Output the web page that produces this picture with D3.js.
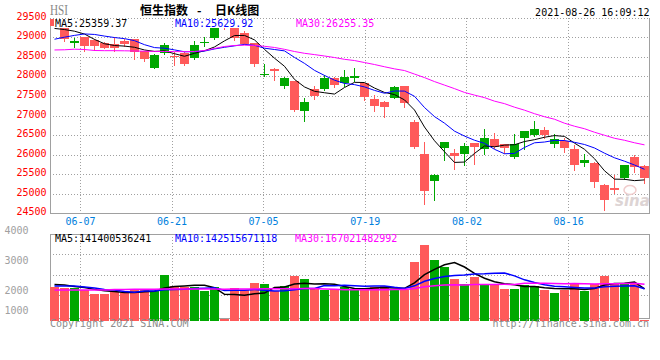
<!DOCTYPE html>
<html><head><meta charset="utf-8">
<script src="https://cdn.jsdelivr.net/npm/d3@7"></script>
<style>body{margin:0;background:#fff}svg{display:block}</style>
</head><body><svg id="c" width="660" height="360"></svg>
<script>
const dates = ["06-02","06-03","06-04","06-07","06-08","06-09","06-10","06-11","06-15","06-16","06-17","06-18","06-21","06-22","06-23","06-24","06-25","06-28","06-29","06-30","07-02","07-05","07-06","07-07","07-08","07-09","07-12","07-13","07-14","07-15","07-16","07-19","07-20","07-21","07-22","07-23","07-26","07-27","07-28","07-29","07-30","08-02","08-03","08-04","08-05","08-06","08-09","08-10","08-11","08-12","08-13","08-16","08-17","08-18","08-19","08-20","08-23","08-24","08-25","08-26"];
const open = [29460,29410,28850,29000,28930,28850,28830,28900,28960,28650,
  28230,28600,28530,28590,28470,28870,28980,29340,29320,29110,
  28850,28050,28200,27760,27880,27120,27690,27680,27970,27830,
  27960,27830,27420,27350,27460,27760,26840,26010,25330,26180,
  26050,26010,26300,26140,26400,26270,25950,26430,26500,26630,
  26270,26350,26140,25780,25800,25240,25160,25420,25950,25720];
const high = [29480,29420,28980,29010,28960,28890,29000,28960,28970,28660,
  28580,28850,28620,28640,28920,29010,29400,29400,29330,29170,
  28860,28330,28210,27980,27890,27440,27760,28050,27990,28180,
  28210,27840,27530,27380,27760,27770,26900,26330,25520,26330,
  26140,26300,26310,26650,26570,26280,26520,26610,26860,26710,
  26520,26440,26240,26010,25810,25250,25490,25740,25990,25740];
const low = [29230,28890,28720,28640,28650,28700,28620,28760,28420,28380,
  28200,28560,28280,28280,28430,28760,28930,29180,28900,28800,
  28240,27990,27890,27680,27100,26840,27400,27620,27700,27740,
  27870,27380,27100,26940,27420,27190,26150,24710,24820,25830,
  25600,25720,25750,25990,26140,26030,25890,26120,26460,26400,
  26180,26050,25590,25700,25160,24560,25010,25350,25540,25250];
const close = [29297,28966,28918,28787,28781,28743,28739,28842,28639,28437,
  28559,28801,28489,28310,28817,28882,29288,29268,28994,28828,
  28310,28073,28143,27960,27153,27345,27515,27963,27787,27996,
  28005,27489,27260,27225,27724,27322,26192,25086,25474,26315,
  25961,26236,26195,26427,26205,26179,26283,26606,26660,26518,
  26392,26181,25746,25867,25316,24850,25110,25728,25694,25416];
const ma5 = [29231,29202,29160,29087,28950,28839,28794,28779,28749,28680,
  28643,28656,28585,28519,28595,28660,28757,28913,29050,29052,
  28938,28695,28470,28263,27928,27735,27623,27587,27553,27721,
  27853,27848,27707,27595,27540,27404,27145,26710,26360,26078,
  25806,25815,26036,26227,26205,26248,26258,26340,26387,26449,
  26492,26471,26299,26141,25901,25592,25378,25374,25340,25359];
const ma10 = [28955,29007,29053,29090,29077,29035,28998,28970,28918,28815,
  28741,28725,28682,28634,28638,28652,28707,28749,28785,28824,
  28799,28726,28692,28657,28490,28337,28159,28029,27908,27825,
  27794,27736,27647,27574,27631,27629,27496,27209,26977,26809,
  26605,26479,26373,26293,26141,26027,26036,26188,26307,26327,
  26370,26365,26320,26264,26175,26042,25924,25837,25740,25630];
const ma30 = [28680,28685,28700,28692,28667,28662,28662,28659,28654,28649,
  28644,28641,28639,28636,28641,28667,28718,28769,28795,28803,
  28795,28774,28744,28697,28641,28595,28562,28526,28487,28441,
  28410,28359,28308,28251,28197,28154,28064,27974,27872,27782,
  27692,27595,27526,27462,27372,27308,27218,27141,27051,26974,
  26910,26808,26731,26667,26577,26500,26423,26372,26308,26255];
const volume = [2240,2190,2190,2150,2000,2000,2080,2040,2120,2120,
  2090,2630,2270,2230,2230,2100,2220,1170,2190,2120,
  2360,2320,2100,2270,2600,2500,2210,2130,2170,2240,
  2170,2170,2240,2270,2130,2130,3080,3630,3130,2910,
  2500,2330,2580,2300,2330,2170,2170,2300,2270,2130,
  2040,2130,2320,2110,2320,2610,2380,2380,2320,1150];
const volMa5 = [2317,2300,2250,2217,2154,2106,2084,2054,2048,2072,
  2090,2200,2246,2268,2290,2292,2210,1990,1982,1960,
  2012,2032,2218,2234,2330,2358,2336,2342,2322,2250,
  2184,2176,2198,2218,2196,2188,2370,2648,2820,2976,
  3050,2900,2690,2524,2408,2342,2310,2254,2248,2208,
  2182,2174,2178,2146,2184,2298,2348,2360,2402,2168];
const volMa10 = [2267,2267,2267,2233,2200,2150,2133,2080,2060,2100,
  2098,2142,2150,2158,2181,2191,2205,2118,2125,2125,
  2152,2121,2104,2108,2145,2185,2184,2280,2278,2290,
  2271,2256,2270,2270,2223,2186,2273,2423,2519,2586,
  2619,2635,2669,2672,2692,2696,2605,2472,2386,2308,
  2262,2242,2216,2197,2196,2240,2261,2269,2274,2176];
const volMa30 = [2133,2133,2133,2133,2133,2133,2150,2150,2155,2155,
  2155,2165,2165,2165,2165,2165,2165,2160,2170,2170,
  2170,2175,2175,2175,2178,2180,2180,2165,2155,2141,
  2139,2138,2140,2144,2148,2152,2186,2239,2272,2299,
  2312,2302,2313,2315,2318,2321,2319,2357,2359,2360,
  2349,2343,2350,2345,2335,2339,2345,2353,2358,2322];
const priceTicks = [29500,29000,28500,28000,27500,27000,26500,26000,25500,25000,24500];
const volTicks = [4000,3000,2000,1000];
const dateTicks = ["06-07","06-21","07-05","07-19","08-02","08-16"];
const priceMaLabels = ["MA5:25359.37","MA10:25629.92","MA30:26255.35"];
const volMaLabels = ["MA5:141400536241","MA10:142515671118","MA30:167021482992"];
const maColors = ["#000000","#0000ff","#ff00ff"];

const svg = d3.select("#c");
const mono = "'DejaVu Sans Mono', monospace";
const RED = "#ff5a5a", GREEN = "#00a800", GRID = "#a0a0a0", AXIS = "#a0a0a0";
const n = dates.length;
const L = 50, R = 650, T = 18, B = 213, VT = 234, VB = 318;

const xC = d3.scaleLinear().domain([0, n]).range([L, R]);        // candle slots
const xG = d3.scaleLinear().domain([0, n - 1]).range([L, R]);    // date grid
const y = d3.scaleLinear().domain([24500, 29500]).range([213.5, 17.9]);
const yV = d3.scaleLinear().domain([1100, 4000]).range([321, 234]);
const vGrid = d3.scaleLinear().domain([0, 4]).range([VT, 316]);
const px = v => Math.floor(v + 0.4) + 0.5;

// ---------- header ----------
svg.append("text").attr("x", 50).attr("y", 15).attr("fill", "#888")
  .attr("font-family", "'Liberation Serif', serif").attr("font-size", 14)
  .attr("textLength", 18).attr("lengthAdjust", "spacingAndGlyphs").text("HSI");
const title = svg.append("text").attr("y", 15).attr("fill", "#000")
  .attr("font-family", "'Noto Sans CJK SC', sans-serif").attr("font-size", 12)
  .attr("font-weight", "bold");
title.append("tspan").attr("x", 140).text("恒生指数");
title.append("tspan").attr("x", 197).text("-");
title.append("tspan").attr("x", 215).text("日K线图");
svg.append("text").attr("x", 649.5).attr("y", 16).attr("text-anchor", "end")
  .attr("font-family", mono).attr("font-size", 10).attr("fill", "#000")
  .text("2021-08-26 16:09:12");

// ---------- grid ----------
const g = svg.append("g").attr("shape-rendering", "crispEdges");
priceTicks.slice(0, -1).forEach(v => {
  g.append("line").attr("x1", L).attr("x2", R).attr("y1", px(y(v))).attr("y2", px(y(v)))
    .attr("stroke", GRID).attr("stroke-dasharray", "1,2");
});
dateTicks.forEach(d => {
  const xx = Math.floor(xG(dates.indexOf(d))) + 0.5;
  g.append("line").attr("x1", xx).attr("x2", xx).attr("y1", T).attr("y2", B)
    .attr("stroke", GRID).attr("stroke-dasharray", "1,2");
  g.append("line").attr("x1", xx).attr("x2", xx).attr("y1", VT).attr("y2", VB)
    .attr("stroke", GRID).attr("stroke-dasharray", "1,2");
});
[1, 2, 3].forEach(i => {
  const yy = Math.floor(vGrid(i)) + 0.5;
  g.append("line").attr("x1", L).attr("x2", R).attr("y1", yy).attr("y2", yy)
    .attr("stroke", GRID).attr("stroke-dasharray", "1,2");
});
[[L + 0.5, T, L + 0.5, B + 1], [R - 0.5, T, R - 0.5, B + 1], [L, B + 0.5, R, B + 0.5],
 [L, VT + 0.5, R, VT + 0.5], [L + 0.5, VT, L + 0.5, VB + 1], [R - 0.5, VT, R - 0.5, VB + 1],
 [L, VB + 0.5, R, VB + 0.5]].forEach(a => {
  g.append("line").attr("x1", a[0]).attr("y1", a[1]).attr("x2", a[2]).attr("y2", a[3])
    .attr("stroke", AXIS);
});

// price labels
svg.append("g").selectAll("text").data(priceTicks).join("text")
  .attr("x", 46.5).attr("y", v => Math.floor(y(v) + 0.4) + 2)
  .attr("text-anchor", "end").attr("font-family", mono).attr("font-size", 10)
  .attr("fill", "#ff0000").text(v => v);
// date labels
svg.append("g").selectAll("text").data(dateTicks).join("text")
  .attr("x", d => xG(dates.indexOf(d))).attr("y", 225)
  .attr("text-anchor", "middle").attr("font-family", mono).attr("font-size", 10)
  .attr("fill", "#0080dd").text(d => d);
// volume labels
svg.append("g").selectAll("text").data(volTicks).join("text")
  .attr("x", 28.5).attr("y", v => Math.min(yV(v), 314))
  .attr("text-anchor", "end").attr("font-family", mono).attr("font-size", 10)
  .attr("fill", "#a0a0a0").text(v => v);

// watermark
const wm = svg.append("g");
wm.append("ellipse").attr("cx", 630).attr("cy", 190).attr("rx", 6).attr("ry", 4.5)
  .attr("fill", "none").attr("stroke", "#f0cccc").attr("stroke-width", 1.5);
wm.append("text").attr("x", 615).attr("y", 206).attr("font-family", "'DejaVu Sans', sans-serif")
  .attr("font-style", "italic").attr("font-weight", "bold").attr("font-size", 15)
  .attr("fill", "#ddd4d4").text("sina");

// ---------- candles ----------
svg.append("clipPath").attr("id", "mainclip").append("rect")
  .attr("x", L).attr("y", T).attr("width", R - L).attr("height", B - T + 1);
const cg = svg.append("g").attr("clip-path", "url(#mainclip)").attr("shape-rendering", "crispEdges");
const idx = d3.range(n);
const col = i => close[i] >= open[i] ? GREEN : RED;
cg.selectAll("line.wick").data(idx).join("line").attr("class", "wick")
  .attr("x1", i => xC(i) + 4.5).attr("x2", i => xC(i) + 4.5)
  .attr("y1", i => y(high[i])).attr("y2", i => y(low[i]))
  .attr("stroke", col);
cg.selectAll("rect.body").data(idx).join("rect").attr("class", "body")
  .attr("x", i => xC(i)).attr("width", 9)
  .attr("y", i => y(Math.max(open[i], close[i])))
  .attr("height", i => Math.max(1, Math.abs(y(open[i]) - y(close[i]))))
  .attr("fill", col);

const lineP = d3.line().x((d, i) => xC(i) + 4.5).y(d => y(d));
[ma5, ma10, ma30].forEach((arr, j) => {
  cg.append("path").datum(arr).attr("d", lineP).attr("fill", "none")
    .attr("stroke", maColors[j]).attr("stroke-width", 1).attr("shape-rendering", "auto");
});

// ---------- volume ----------
const vg = svg.append("g").attr("shape-rendering", "crispEdges");
vg.selectAll("rect").data(idx).join("rect")
  .attr("x", i => xC(i)).attr("width", 9)
  .attr("y", i => yV(volume[i])).attr("height", i => 321 - yV(volume[i]))
  .attr("fill", col);
const lineV = d3.line().x((d, i) => xC(i) + 4.5).y(d => yV(d));
[volMa5, volMa10, volMa30].forEach((arr, j) => {
  svg.append("path").datum(arr).attr("d", lineV).attr("fill", "none")
    .attr("stroke", maColors[j]).attr("stroke-width", 1.5);
});

// ---------- MA labels ----------
const labX = [55, 175, 296];
priceMaLabels.forEach((t, j) => {
  svg.append("rect").attr("x", labX[j] - 1).attr("y", 19).attr("width", t.length * 6.02 + 2)
    .attr("height", 9).attr("fill", "#fff");
  svg.append("text").attr("x", labX[j]).attr("y", 27).attr("font-family", mono)
    .attr("font-size", 10).attr("fill", maColors[j]).text(t);
});
const vlabX = [55, 175, 295];
volMaLabels.forEach((t, j) => {
  svg.append("text").attr("x", vlabX[j]).attr("y", 242).attr("font-family", mono)
    .attr("font-size", 10).attr("fill", maColors[j]).text(t);
});

// footer
svg.append("text").attr("x", 50).attr("y", 327).attr("font-family", mono).attr("font-size", 10)
  .attr("fill", "#8c8c8c").text("Copyright 2021 SINA.COM");
svg.append("text").attr("x", 649).attr("y", 327).attr("text-anchor", "end").attr("font-family", mono)
  .attr("font-size", 10).attr("fill", "#8c8c8c").text("http://finance.sina.com.cn");
</script></body></html>
